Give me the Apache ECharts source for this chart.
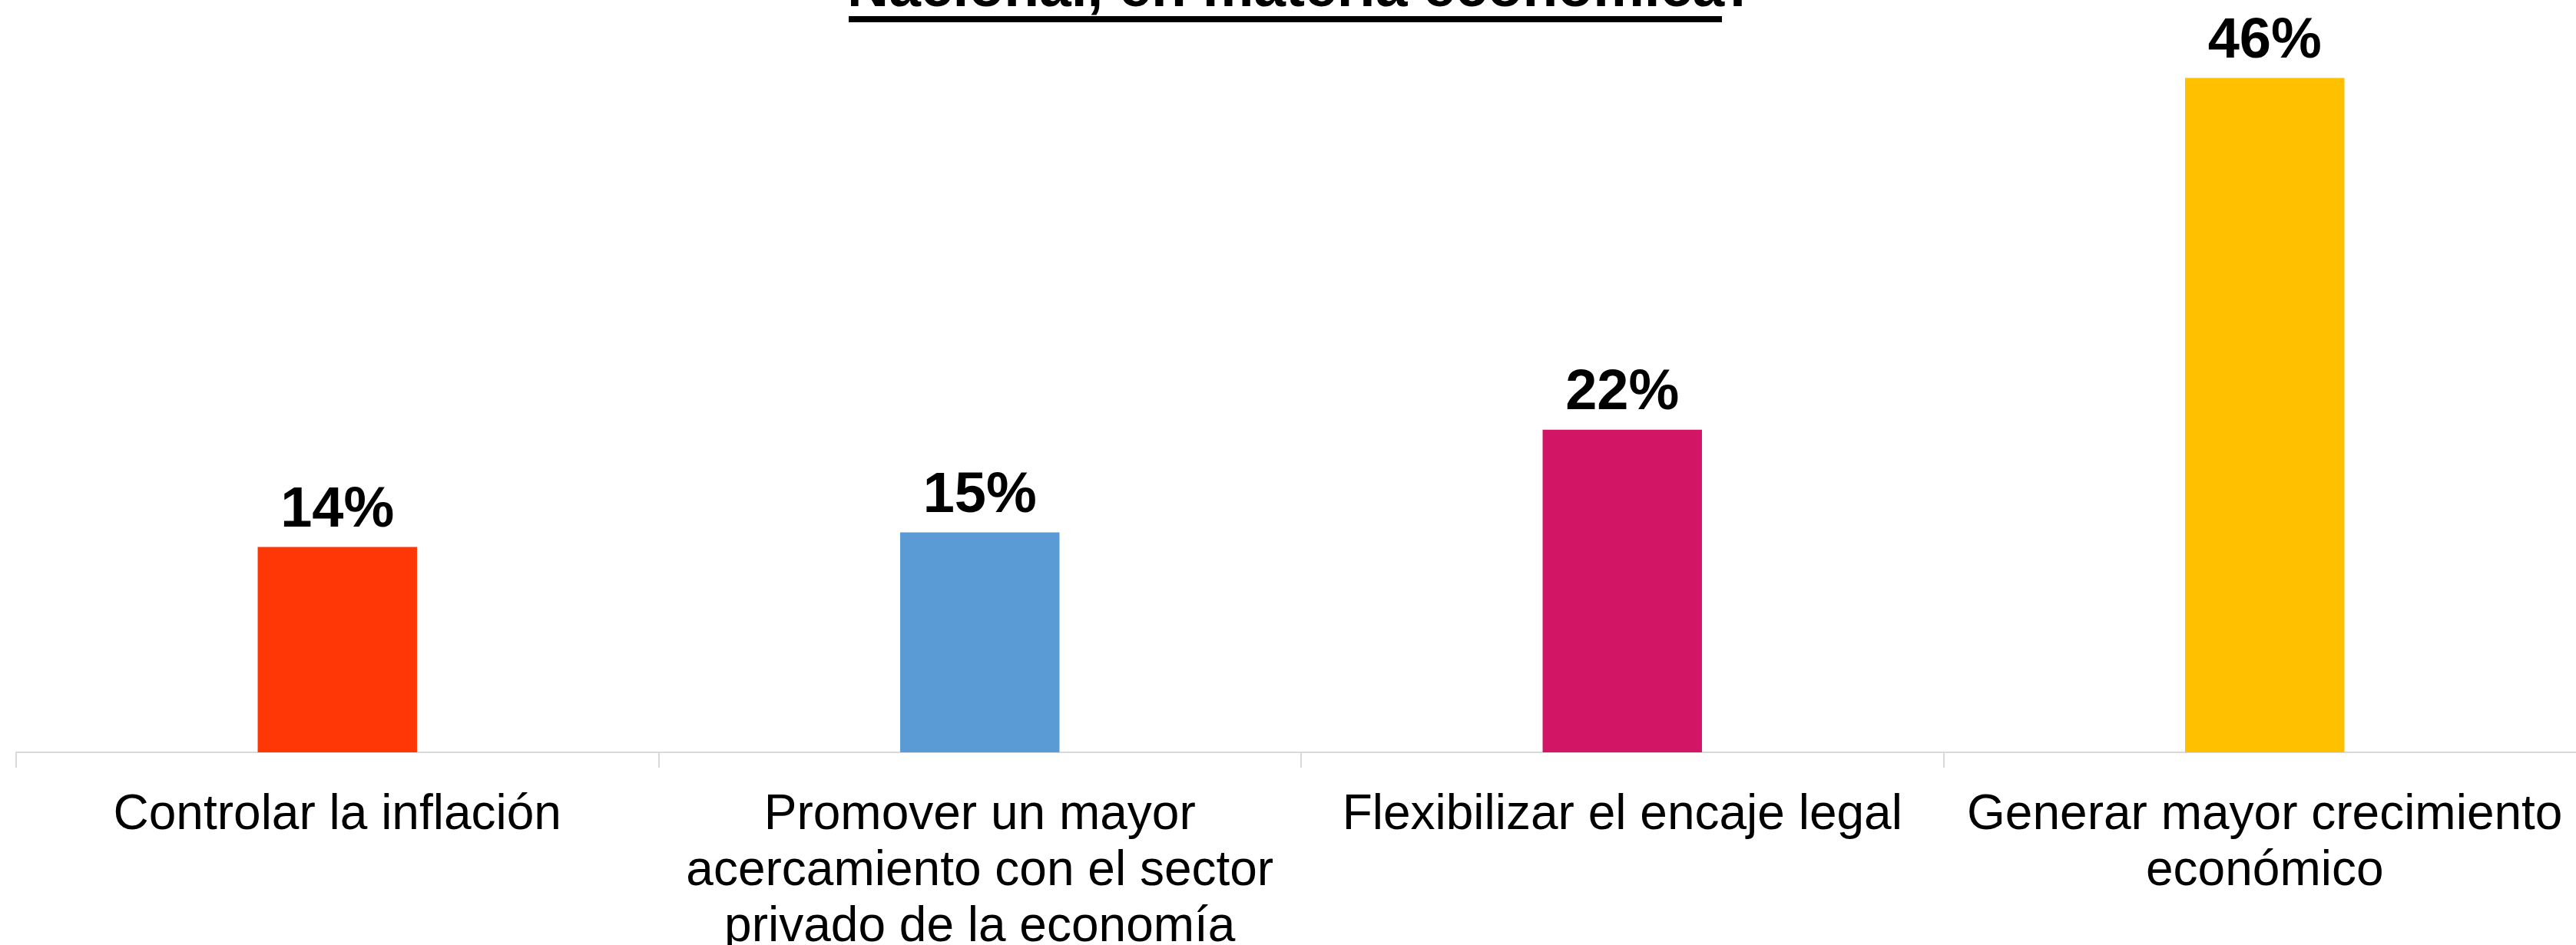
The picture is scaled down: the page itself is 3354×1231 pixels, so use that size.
<!DOCTYPE html>
<html>
<head>
<meta charset="utf-8">
<script src="https://cdn.jsdelivr.net/npm/echarts@6/dist/echarts.min.js"></script>
<style>
  html, body { margin: 0; padding: 0; background: #fff; overflow: hidden; }
  #chart { width: 3354px; height: 1231px; }
</style>
</head>
<body>
<div id="chart"></div>
<script>
// datos del gráfico
var categories = [
  'Controlar la inflación',
  'Promover un mayor\nacercamiento con el sector\nprivado de la economía',
  'Flexibilizar el encaje legal',
  'Generar mayor crecimiento\neconómico'
];
var values = [14, 15, 22, 46];
var barColors = ['#ff3707', '#5b9bd5', '#d31565', '#ffc000'];
var titleText = 'Nacional, en materia económica';

var FONT = '"Liberation Sans", Arial, sans-serif';
var chart = echarts.init(document.getElementById('chart'));

chart.setOption({
  backgroundColor: '#ffffff',
  animation: false,
  grid: {
    left: 21, right: -13, top: 25, bottom: 251,
    containLabel: false,
    outerBoundsMode: 'none'
  },
  graphic: [
    {
      type: 'text',
      left: 1103,
      top: -50,
      style: {
        text: titleText,
        font: 'bold 75px ' + FONT,
        fill: '#000'
      }
    },
    {
      type: 'text',
      left: 2250,
      top: -50,
      style: {
        text: ':',
        font: 'bold 75px ' + FONT,
        fill: '#000'
      }
    },
    {
      // subrayado del título
      type: 'rect',
      left: 1105,
      top: 21,
      shape: { width: 1137, height: 8 },
      style: { fill: '#000' }
    }
  ],
  xAxis: {
    type: 'category',
    data: categories,
    axisLine: { show: true, lineStyle: { color: '#d9d9d9', width: 2 } },
    axisTick: { show: true, length: 20, lineStyle: { color: '#d9d9d9', width: 2 } },
    axisLabel: {
      interval: 0,
      margin: 46,
      color: '#000',
      fontFamily: FONT,
      fontSize: 64,
      lineHeight: 73,
      align: 'center'
    }
  },
  yAxis: {
    type: 'value',
    min: 0,
    max: 50,
    show: false,
    splitLine: { show: false }
  },
  series: [
    {
      type: 'bar',
      barWidth: '24.8%',
      data: values.map(function (v, i) {
        return { value: v, itemStyle: { color: barColors[i] } };
      }),
      label: {
        show: true,
        position: 'top',
        distance: 10,
        formatter: '{c}%',
        color: '#000',
        fontFamily: FONT,
        fontWeight: 'bold',
        fontSize: 74
      }
    }
  ]
});
</script>
</body>
</html>
